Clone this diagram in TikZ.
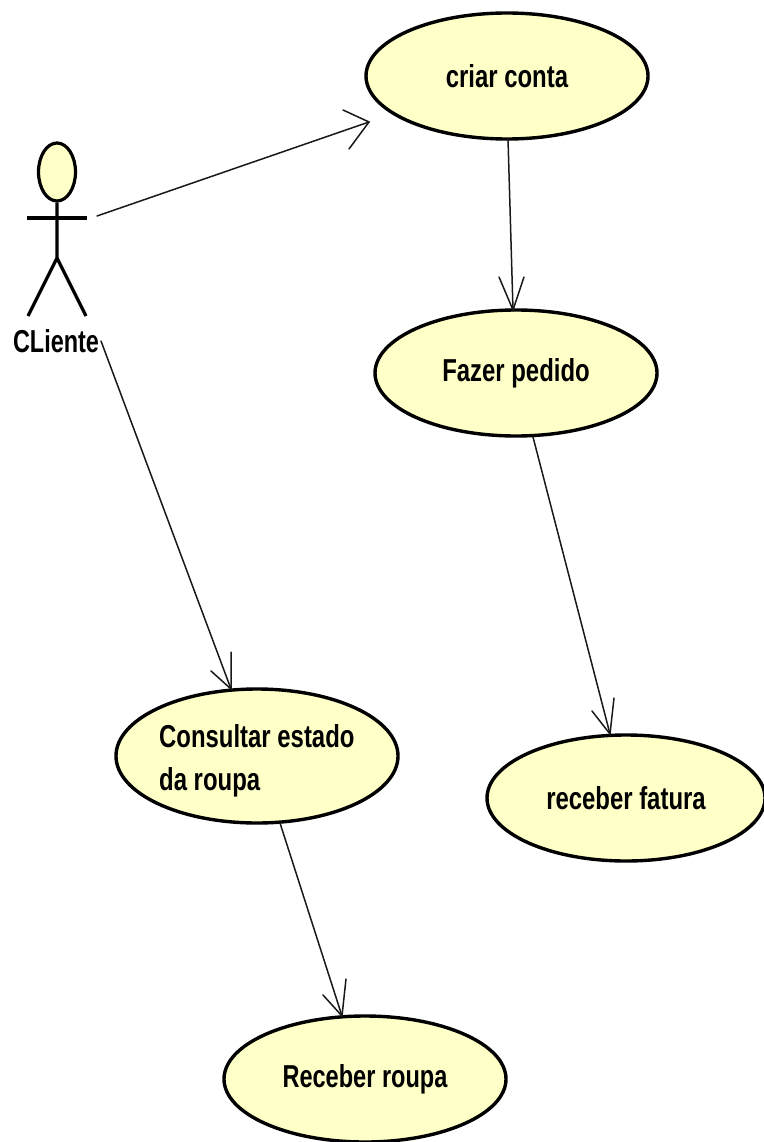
\documentclass[tikz,border=0pt]{standalone}
\usepackage{fontspec}
\setmainfont{Liberation Sans}
\usetikzlibrary{shapes.geometric}
\definecolor{uc}{HTML}{FFFFC8}
\newcommand{\ucstretch}[2][0.98]{\scalebox{#1}[1.3]{#2}}
\tikzset{
 usecase/.style={draw=black,line width=3.4pt,fill=uc,ellipse,inner sep=0pt,font=\bfseries\fontsize{24.4}{26}\selectfont},
 assoc/.style={draw=black!90,line width=1.5pt,line cap=round,line join=miter},
 lbl/.style={font=\bfseries\fontsize{24.4}{26}\selectfont,inner sep=0pt},
 limb/.style={line width=3.2pt}
}
\begin{document}
\begin{tikzpicture}[x=1pt,y=-1pt]
\useasboundingbox (0,0) rectangle (763,1142);
\node[usecase,minimum width=282pt,minimum height=126pt] (criar) at (507,76) {\ucstretch{criar conta}};
\node[usecase,minimum width=282pt,minimum height=126pt] (fazer) at (516,373) {\ucstretch{Fazer pedido}};
\node[usecase,minimum width=278pt,minimum height=126pt] (fatura) at (626,798) {\ucstretch{receber fatura}};
\node[usecase,minimum width=282pt,minimum height=134pt] (consultar) at (257,756) {};
\node[lbl,anchor=west] (c1) at (159,736) {\ucstretch{Consultar estado}};
\node[lbl,anchor=west] (c2) at (159,782) {\ucstretch{da roupa}};
\node[usecase,minimum width=282pt,minimum height=126pt] (roupa) at (365,1079) {\ucstretch[0.965]{Receber roupa}};
% actor
\node[draw=black,line width=3.2pt,fill=uc,ellipse,minimum width=37pt,minimum height=58pt,inner sep=0pt] (head) at (57,172) {};
\coordinate (hipL) at (57,258);
\coordinate (armL) at (27,218);
\coordinate (armR) at (87,218);
\coordinate (footL) at (28,316);
\coordinate (footR) at (86,316);
\draw[limb] (head.south) -- (hipL) -- (footL);
\draw[limb] (hipL) -- (footR);
\draw[limb] (armL) -- (armR);
\node[lbl] (cliente) at (56,341) {\scalebox{0.96}[1.3]{CLiente}};
\coordinate (a1) at (97,216);
\coordinate (a2) at (101,341);
% connector ends (tips of the open arrowheads)
\coordinate (tCriar) at (369,122);
\coordinate (tConsultar) at (231,689);
\coordinate (tFazer) at (513,310);
\coordinate (tFatura) at (610,734);
\coordinate (tRoupa) at (342,1016);
\coordinate (sCriar) at (508,139);
\coordinate (sFazer) at (533,437);
\coordinate (sConsultar) at (280,823);
\draw[assoc] (a1) -- (tCriar);
\draw[assoc] (343,110) -- (tCriar) -- (349,149);
\draw[assoc] (a2) -- (tConsultar);
\draw[assoc] (211,671) -- (tConsultar) -- (231,652);
\draw[assoc] (sCriar) -- (tFazer);
\draw[assoc] (499,277) -- (tFazer) -- (524,277);
\draw[assoc] (sFazer) -- (tFatura);
\draw[assoc] (592,711) -- (tFatura) -- (614,698);
\draw[assoc] (sConsultar) -- (tRoupa);
\draw[assoc] (323,995) -- (tRoupa) -- (346,979);
\end{tikzpicture}
\end{document}
